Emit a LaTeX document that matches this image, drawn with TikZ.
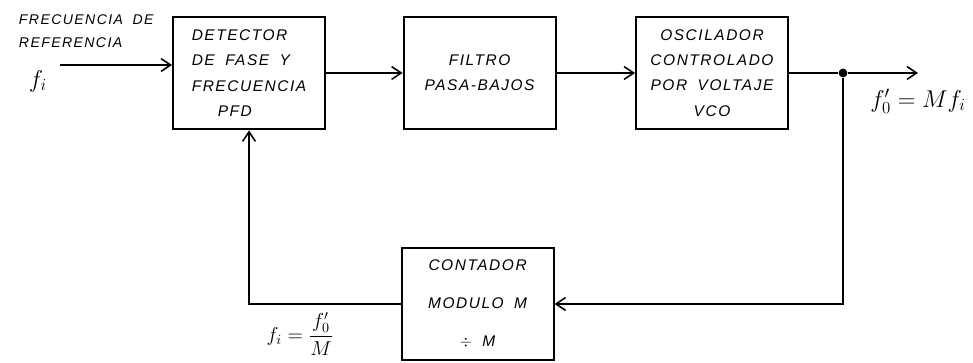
\documentclass[tikz,border=0pt]{standalone}
\usepackage{amsmath}
\usepackage{fontspec}
\usetikzlibrary{arrows.meta}
\newfontfamily\hand[LetterSpace=10,WordSpace=1.8]{Liberation Sans}
\tikzset{
  bloque/.style ={draw=black, line width=1.4pt, minimum width=3.8cm, minimum height=2.82cm,
                  font=\hand\itshape\fontsize{11}{18}\selectfont},
  senal/.style  ={draw=black, line width=1.1pt, -{Straight Barb[length=2.4mm,width=3.2mm]}},
  linea/.style  ={draw=black, line width=1.1pt},
  rotulo/.style ={font=\hand\itshape\fontsize{10}{13}\selectfont},
  punto/.style  ={circle, fill=black, minimum size=0.22cm, inner sep=0pt},
}

\begin{document}
\begin{tikzpicture}[scale=1.0]
  \useasboundingbox (0,0) rectangle (24.325,9.075);
  % bloques del lazo
  \node[bloque, align=left]   (pfd)  at (6.225,7.25) {DETECTOR\\DE FASE Y\\FRECUENCIA\\\quad\ PFD};
  \node[bloque, align=center] (pb)   at (11.99,7.25) {FILTRO\\PASA-BAJOS};
  \node[bloque, align=center] (vco)  at (17.8,7.25)  {OSCILADOR\\CONTROLADO\\POR VOLTAJE\\VCO};
  \node[bloque, align=center, font=\hand\itshape\fontsize{11}{27}\selectfont]
                              (cont) at (11.94,1.475) {CONTADOR\\MODULO M\\$\div$ M};
  % entrada
  \node[rotulo, anchor=west] (ref1) at (0.35,8.575) {FRECUENCIA DE};
  \node[rotulo, anchor=west] (ref2) at (0.35,8.0)   {REFERENCIA};
  \node (fi) at (0.95,7.05) {\LARGE $f_i$};
  \coordinate (entrada) at (1.5,7.45);
  \draw[senal] (entrada) -- (entrada -| pfd.west);
  % camino directo
  \draw[senal] (pfd.east) -- (pb.west);
  \draw[senal] (pb.east) -- (vco.west);
  \node[punto] (nodo) at (21.075,7.25) {};
  \coordinate (salida) at (22.95,7.25);
  \draw[linea] (vco.east) -- (nodo);
  \draw[senal] (nodo) -- (salida);
  \node (fo) at (22.95,6.55) {\LARGE $f_0' = M f_i$};
  % realimentacion
  \draw[senal] (nodo) |- (cont.east);
  \draw[senal] (cont.west) -| (pfd.south);
  \node (fdiv) at (7.5,0.72) {\Large $f_i = \dfrac{f_0'}{M}$};
\end{tikzpicture}
\end{document}
